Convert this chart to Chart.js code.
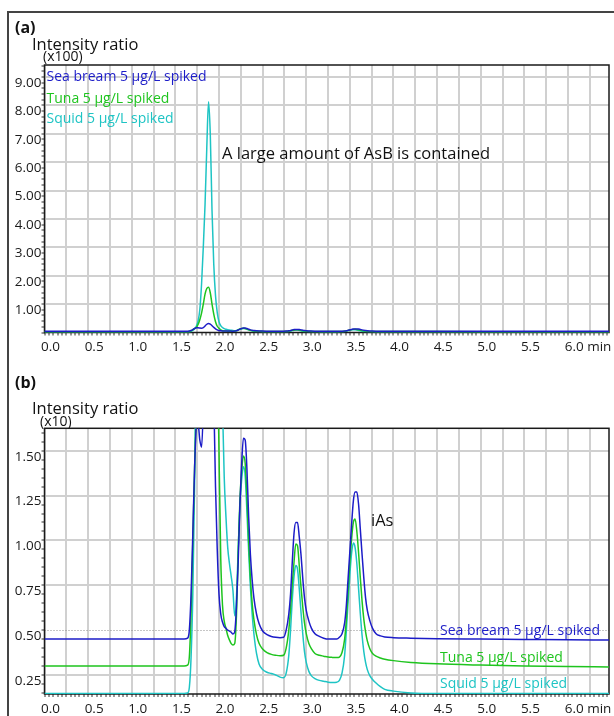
<!DOCTYPE html>
<html>
<head>
<meta charset="utf-8">
<script src="https://cdn.jsdelivr.net/npm/chart.js@4"></script>
<style>
  body { margin: 0; background: #fff; }
  #page { position: relative; width: 614px; height: 716px; overflow: hidden; font-family: 'Open Sans', sans-serif; color: #111; }
  #frame { position: absolute; left: 7px; top: 11px; width: 640px; height: 740px; border-left: 2px solid #444; border-top: 2px solid #444; }
  canvas { position: absolute; left: 0; }
  .lbl { position: absolute; white-space: nowrap; line-height: 1; }
</style>
</head>
<body>
<div id="page">
  <div id="frame"></div>
  <canvas id="chartA" width="614" height="360" style="top:0"></canvas>
  <canvas id="chartB" width="614" height="356" style="top:360px"></canvas>

  <div class="lbl" style="left:15px;top:19px;font-size:16px;font-weight:bold">(a)</div>
  <div class="lbl" style="left:32px;top:36px;font-size:16.5px">Intensity ratio</div>
  <div class="lbl" style="left:43px;top:49px;font-size:14px">(x100)</div>
  <div class="lbl" style="left:222px;top:145px;font-size:16.5px">A large amount of AsB is contained</div>

  <div class="lbl" style="left:15px;top:374px;font-size:16px;font-weight:bold">(b)</div>
  <div class="lbl" style="left:32px;top:400px;font-size:16.5px">Intensity ratio</div>
  <div class="lbl" style="left:40px;top:414px;font-size:14px">(x10)</div>
  <div class="lbl" style="left:371px;top:512px;font-size:16.5px">iAs</div>
</div>
<script>
// retention time (min)
const times = [
  0, 0.5, 1.0, 1.5, 1.60, 1.64,
  1.66, 1.68, 1.70, 1.72, 1.74, 1.76, 1.78, 1.80, 1.82, 1.84,
  1.86, 1.88, 1.90, 1.92, 1.94, 1.96, 1.98, 2.00, 2.02, 2.04,
  2.06, 2.08, 2.10, 2.12, 2.14, 2.16, 2.18, 2.20, 2.22, 2.24,
  2.26, 2.28, 2.30, 2.32, 2.34, 2.36, 2.38, 2.40, 2.43, 2.46,
  2.50, 2.55, 2.60, 2.65, 2.70, 2.74, 2.77, 2.80, 2.82, 2.84,
  2.86, 2.88, 2.90, 2.92, 2.94, 2.96, 2.98, 3.00, 3.03, 3.06,
  3.10, 3.15, 3.20, 3.25, 3.30, 3.35, 3.38, 3.41, 3.44, 3.46,
  3.48, 3.50, 3.52, 3.54, 3.56, 3.58, 3.60, 3.62, 3.64, 3.66,
  3.68, 3.70, 3.73, 3.76, 3.80, 3.85, 3.90, 4.00, 4.20, 4.50,
  5.00, 5.50, 6.00, 6.47
];

// intensity ratio (raw)
const seaBream = [
  4.5, 4.5, 4.5, 4.5, 4.5, 4.55,
  5.0, 7.0, 10.4, 14.0, 16.3, 16.5, 15.6, 15.2, 17.5, 23.0,
  29.0, 32.0, 29.5, 24.0, 18.0, 13.0, 9.5, 7.0, 5.9, 5.45,
  5.2, 5.1, 5.0, 4.95, 4.88, 4.78, 4.9, 6.3, 8.8, 12.0,
  14.3, 15.7, 15.6, 14.0, 11.3, 9.2, 7.8, 6.8, 5.9, 5.35,
  4.95, 4.75, 4.65, 4.6, 4.58, 4.6, 5.0, 5.9, 7.0, 8.8,
  10.4, 11.0, 11.0, 10.2, 9.2, 7.9, 6.8, 6.1, 5.5, 5.1,
  4.8, 4.65, 4.55, 4.5, 4.5, 4.5, 4.6, 4.8, 5.4, 6.4,
  7.9, 9.4, 10.9, 12.2, 12.7, 12.7, 12.0, 10.6, 9.2, 7.9,
  6.8, 6.1, 5.5, 5.1, 4.8, 4.68, 4.62, 4.58, 4.55, 4.52,
  4.5, 4.48, 4.46, 4.45
];
const tuna = [
  3.0, 3.0, 3.0, 3.0, 3.0, 3.05,
  3.5, 6.0, 10.0, 14.0, 18.0, 28.0, 45.0, 68.0, 100.0, 135.0,
  155.0, 159.0, 140.0, 100.0, 65.0, 38.0, 22.0, 15.0, 9.0, 6.4,
  5.5, 5.1, 4.7, 4.45, 4.25, 4.17, 4.25, 5.8, 9.3, 12.3,
  13.9, 14.7, 14.3, 12.4, 9.9, 7.9, 6.5, 5.6, 4.75, 4.25,
  3.95, 3.75, 3.65, 3.6, 3.57, 3.6, 4.0, 5.0, 6.2, 7.6,
  8.8, 9.8, 9.7, 8.6, 7.4, 6.3, 5.4, 4.8, 4.25, 3.95,
  3.7, 3.6, 3.55, 3.5, 3.48, 3.47, 3.5, 3.75, 4.5, 5.6,
  7.2, 8.8, 10.1, 11.0, 11.2, 10.5, 9.3, 7.9, 6.6, 5.6,
  4.9, 4.4, 3.95, 3.7, 3.55, 3.45, 3.38, 3.3, 3.2, 3.12,
  3.05, 3.0, 2.97, 2.95
];
const squid = [
  1.47, 1.47, 1.47, 1.47, 1.47, 1.5,
  1.8, 3.5, 7.0, 13.0, 22.0, 40.0, 80.0, 170.0, 300.0, 450.0,
  650.0, 813.0, 700.0, 430.0, 240.0, 130.0, 70.0, 38.0, 24.0, 17.5,
  13.5, 11.3, 9.6, 8.7, 8.0, 7.2, 5.8, 6.8, 9.5, 12.0,
  13.4, 14.1, 13.6, 11.6, 9.4, 7.4, 5.9, 4.8, 3.7, 3.1,
  2.8, 2.65, 2.58, 2.5, 2.38, 2.35, 2.6, 3.6, 5.0, 6.7,
  8.0, 8.6, 8.4, 7.3, 6.0, 4.8, 3.8, 3.2, 2.7, 2.45,
  2.3, 2.2, 2.15, 2.1, 2.08, 2.1, 2.2, 2.6, 3.6, 5.0,
  6.6, 8.1, 9.3, 9.85, 9.6, 8.7, 7.3, 5.9, 4.7, 3.8,
  3.2, 2.8, 2.45, 2.25, 2.05, 1.85, 1.7, 1.6, 1.5, 1.47,
  1.47, 1.47, 1.47, 1.47
];

const seriesNames = ['Sea bream 5 µg/L spiked', 'Tuna 5 µg/L spiked', 'Squid 5 µg/L spiked'];
const seriesColors = ['#1c1cc8', '#1ec41e', '#1ec4c4'];

const xTickValues = [0, 0.5, 1.0, 1.5, 2.0, 2.5, 3.0, 3.5, 4.0, 4.5, 5.0, 5.5, 6.0];
const xTickLabels = ['0.0', '0.5', '1.0', '1.5', '2.0', '2.5', '3.0', '3.5', '4.0', '4.5', '5.0', '5.5', '        6.0 min'];

// panel (a): x100
const aTickValues = [100, 200, 300, 400, 500, 600, 700, 800, 900];
const aTickLabels = ['1.00', '2.00', '3.00', '4.00', '5.00', '6.00', '7.00', '8.00', '9.00'];
// panel (b): x10
const bTickValues = [2.5, 5, 7.5, 10, 12.5, 15];
const bTickLabels = ['0.25', '0.50', '0.75', '1.00', '1.25', '1.50'];

const gridColor = '#d0d0d0';
const tickFont = { family: "'Open Sans', sans-serif", size: 13.5 };

function onStep(v, step) {
  const r = v / step;
  return Math.abs(r - Math.round(r)) < 1e-6;
}
function steps(from, to, step) {
  const out = [];
  for (let i = Math.ceil(from / step - 1e-9); i * step <= to + 1e-9; i++) out.push({ value: +(i * step).toFixed(4) });
  return out;
}
function pick(vals, labels, v) {
  const i = vals.findIndex(t => Math.abs(t - v) < 1e-6);
  return i < 0 ? '' : labels[i];
}

const framePlugin = {
  id: 'frame',
  beforeDatasetsDraw(chart, args, opts) {
    const { ctx, chartArea: a } = chart;
    ctx.save();
    if (typeof opts.dotted === 'number') {
      const y = Math.round(chart.scales.y.getPixelForValue(opts.dotted)) + 0.5;
      ctx.strokeStyle = '#8c8c8c';
      ctx.lineWidth = 1;
      ctx.setLineDash([1, 2]);
      ctx.beginPath();
      ctx.moveTo(a.left, y);
      ctx.lineTo(a.right, y);
      ctx.stroke();
      ctx.setLineDash([]);
    }
    ctx.strokeStyle = '#1a1a1a';
    ctx.lineWidth = 1.5;
    ctx.strokeRect(a.left, a.top, a.right - a.left, a.bottom - a.top);
    ctx.restore();
  }
};

function makeChart(id, cfg) {
  return new Chart(document.getElementById(id), {
    type: 'line',
    data: {
      datasets: [seaBream, tuna, squid].map((vals, k) => ({
        label: seriesNames[k],
        data: times.map((t, i) => ({ x: t, y: vals[i] })),
        borderColor: seriesColors[k],
        borderWidth: 1.5,
        pointRadius: 0,
        cubicInterpolationMode: 'monotone',
        fill: false
      }))
    },
    options: {
      responsive: false,
      animation: false,
      events: [],
      layout: { padding: { top: cfg.top, right: 5, left: 0, bottom: 0 } },
      plugins: {
        legend: { display: false },
        tooltip: { enabled: false },
        frame: { dotted: cfg.dotted }
      },
      scales: {
        x: {
          type: 'linear', min: 0, max: 6.47,
          afterBuildTicks: s => { s.ticks = steps(0, 6.47, 0.05); },
          afterFit: s => { s.height = cfg.xh; },
          border: { display: false },
          grid: {
            color: c => (c.tick && onStep(c.tick.value, 0.25)) ? gridColor : 'rgba(0,0,0,0)',
            lineWidth: 2, tickLength: 3, tickWidth: 1, tickColor: '#333'
          },
          ticks: {
            autoSkip: false, maxRotation: 0, minRotation: 0, labelOffset: 6, padding: 4,
            color: '#1a1a1a', font: tickFont,
            callback: v => pick(xTickValues, xTickLabels, v)
          }
        },
        y: {
          type: 'linear', min: cfg.ymin, max: cfg.ymax,
          afterBuildTicks: s => { s.ticks = steps(cfg.ymin, cfg.ymax, cfg.minor); },
          afterFit: s => { s.width = 44.5; },
          border: { display: false },
          grid: {
            color: c => (c.tick && cfg.tickValues.some(t => Math.abs(t - c.tick.value) < 1e-6) && c.tick.value !== cfg.dotted) ? gridColor : 'rgba(0,0,0,0)',
            lineWidth: 2, tickLength: 3, tickWidth: 1, tickColor: '#333'
          },
          ticks: {
            autoSkip: false, labelOffset: 6, padding: 0,
            color: '#1a1a1a', font: tickFont,
            callback: v => pick(cfg.tickValues, cfg.tickLabels, v)
          }
        }
      }
    },
    plugins: [framePlugin]
  });
}

makeChart('chartA', { top: 65, xh: 27.5, ymin: 0, ymax: 942, minor: 20, tickValues: aTickValues, tickLabels: aTickLabels });
makeChart('chartB', { top: 68.3, xh: 22, ymin: 1.44, ymax: 16.25, minor: 0.5, tickValues: bTickValues, tickLabels: bTickLabels, dotted: 5 });

// in-plot legends
const legendSpots = [
  { left: 46.5, tops: [68.8, 91.3, 111.3] },
  { left: 440, tops: [623.4, 650.3, 676.4] }
];
const page = document.getElementById('page');
legendSpots.forEach(spot => {
  seriesNames.forEach((name, k) => {
    const d = document.createElement('div');
    d.className = 'lbl';
    d.style.left = spot.left + 'px';
    d.style.top = spot.tops[k] + 'px';
    d.style.fontSize = '14px';
    d.style.color = seriesColors[k];
    d.textContent = name;
    page.appendChild(d);
  });
});
</script>
</body>
</html>
